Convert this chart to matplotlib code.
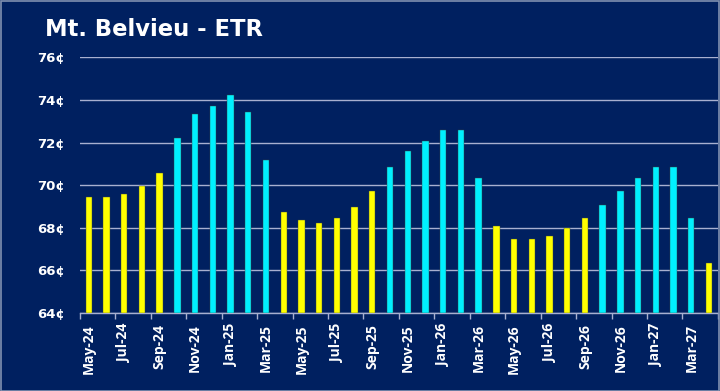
import matplotlib
matplotlib.use("Agg")
import matplotlib.pyplot as plt
import numpy as np

months = ["May-24", "Jun-24", "Jul-24", "Aug-24", "Sep-24", "Oct-24", "Nov-24", "Dec-24",
          "Jan-25", "Feb-25", "Mar-25", "Apr-25", "May-25", "Jun-25", "Jul-25", "Aug-25",
          "Sep-25", "Oct-25", "Nov-25", "Dec-25", "Jan-26", "Feb-26", "Mar-26", "Apr-26",
          "May-26", "Jun-26", "Jul-26", "Aug-26", "Sep-26", "Oct-26", "Nov-26", "Dec-26",
          "Jan-27", "Feb-27", "Mar-27", "Apr-27"]
prices = [69.46, 69.46, 69.60, 69.98, 70.59, 72.23, 73.36, 73.72,
          74.22, 73.46, 71.20, 68.72, 68.37, 68.22, 68.47, 68.99,
          69.71, 70.87, 71.60, 72.09, 72.59, 72.59, 70.34, 68.10,
          67.49, 67.49, 67.60, 67.97, 68.47, 69.08, 69.71, 70.34,
          70.87, 70.87, 68.47, 66.36]
yticks = [64, 66, 68, 70, 72, 74, 76]
title = "Mt. Belvieu - ETR"

bg = "#002060"
summer = ["Apr", "May", "Jun", "Jul", "Aug", "Sep"]
colors = ["#FFFF00" if m[:3] in summer else "#00F0FF" for m in months]

plt.rcParams['font.family'] = ['Open Sans', 'DejaVu Sans']
fig = plt.figure(figsize=(7.2, 3.91), dpi=100, facecolor=bg)
fig.patches.append(plt.Rectangle((0.001, 0.001), 0.997, 0.996, transform=fig.transFigure,
                                 fill=False, edgecolor="#8090B0", linewidth=1.2))
ax = fig.add_axes([0.111, 0.1995, 0.886, 0.6535], facecolor=bg)

x = np.arange(len(months))
ax.bar(x, [p - 64 for p in prices], bottom=64, width=0.36, color=colors, zorder=3,
       edgecolor="#3a4a40", linewidth=0.3)

ax.set_ylim(64, 76)
ax.set_xlim(-0.5, len(months) - 0.5)
ax.set_yticks(yticks)
ax.set_yticklabels([f"{v}¢" for v in yticks], color="white", fontsize=9.5, fontweight="bold",
                   family="DejaVu Sans")
ax.yaxis.grid(True, color="#A8B0D0", linewidth=1.0, zorder=0)
ax.tick_params(axis="y", length=0, pad=11)

ax.set_xticks(x[::2])
ax.set_xticklabels(months[::2], rotation=90, color="white", fontsize=10, fontweight="bold")
ax.set_xticks(np.arange(-0.5, len(months), 2), minor=True)
ax.tick_params(axis="x", which="major", length=0, pad=8)
ax.tick_params(axis="x", which="minor", length=4, color="#A8B0D0", width=1)

for s in ["top", "right", "left"]:
    ax.spines[s].set_visible(False)
ax.spines["bottom"].set_color("#A8B0D0")
ax.spines["bottom"].set_linewidth(1.0)

fig.text(0.062, 0.925, title, color="white", fontsize=16.3, fontweight="bold",
         va="center", ha="left", family="DejaVu Sans")

fig.savefig("out.png", dpi=100, facecolor=bg)
